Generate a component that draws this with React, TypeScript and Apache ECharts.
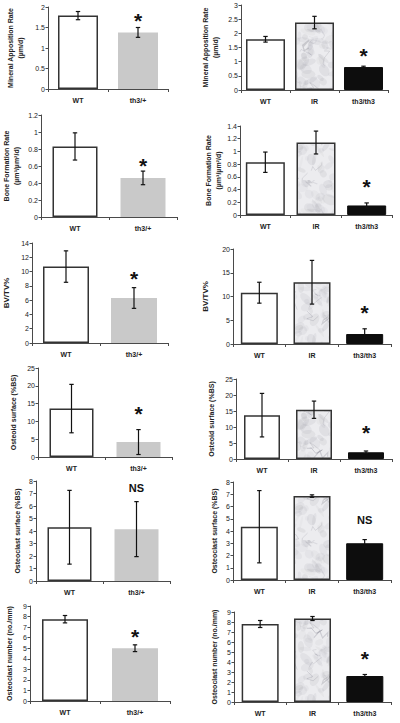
import React, { useEffect, useRef } from "react";
import * as echarts from "echarts";

// ---------- data ----------
const twoCats = ["WT", "th3/+"];
const threeCats = ["WT", "IR", "th3/th3"];

const marLeft = [1.79, 1.38];
const marLeftErr = [0.1, 0.12];
const marRight = [1.79, 2.38, 0.81];
const marRightErr = [0.1, 0.22, 0.03];

const bfrLeft = [0.83, 0.46];
const bfrLeftErr = [0.16, 0.08];
const bfrRight = [0.83, 1.14, 0.15];
const bfrRightErr = [0.16, 0.18, 0.04];

const bvLeft = [10.7, 6.3];
const bvLeftErr = [2.2, 1.45];
const bvRight = [10.8, 13.0, 2.1];
const bvRightErr = [2.2, 4.6, 1.1];

const osLeft = [13.6, 4.2];
const osLeftErr = [6.8, 3.5];
const osRight = [13.7, 15.4, 2.1];
const osRightErr = [6.8, 2.7, 0.4];

const ocsLeft = [4.3, 4.15];
const ocsLeftErr = [2.95, 2.2];
const ocsRight = [4.35, 6.85, 3.0];
const ocsRightErr = [2.95, 0.1, 0.3];

const ocnLeft = [7.75, 5.0];
const ocnLeftErr = [0.35, 0.32];
const ocnRight = [7.8, 8.35, 2.6];
const ocnRightErr = [0.35, 0.2, 0.15];

// significance marks: [category index, y value, text]
const marLeftMark = [1, 1.8, "*"];
const marRightMark = [2, 1.41, "*"];
const bfrLeftMark = [1, 0.67, "*"];
const bfrRightMark = [2, 0.53, "*"];
const bvLeftMark = [1, 9.8, "*"];
const bvRightMark = [2, 7.6, "*"];
const osLeftMark = [1, 13.5, "*"];
const osRightMark = [2, 10, "*"];
const ocsLeftMark = [1, 7.45, "NS"];
const ocsRightMark = [2, 4.9, "NS"];
const ocnLeftMark = [1, 6.55, "*"];
const ocnRightMark = [2, 4.9, "*"];

const marName = "Mineral Apposition Rate\n(µm/d)";
const bfrName = "Bone Formation Rate\n(µm³/µm²/d)";
const bvName = "BV/TV%";
const osName = "Osteoid surface (%BS)";
const ocsName = "Osteoclast surface (%BS)";
const ocnName = "Osteoclast number (no./mm)";

// ---------- styling ----------
const FONT = "Liberation Sans";
const AXIS = "#4a4a4a";

function makeMarble(): HTMLCanvasElement {
  const W = 90;
  const H = 180;
  const c = document.createElement("canvas");
  c.width = W;
  c.height = H;
  const ctx = c.getContext("2d")!;
  ctx.fillStyle = "#ececef";
  ctx.fillRect(0, 0, W, H);
  let seed = 98765;
  const rnd = () => {
    seed = (seed * 16807) % 2147483647;
    return seed / 2147483647;
  };
  for (let i = 0; i < 260; i++) {
    ctx.fillStyle = `rgba(130,130,142,${0.04 + rnd() * 0.08})`;
    ctx.beginPath();
    ctx.ellipse(rnd() * W, rnd() * H, 2 + rnd() * 6, 1 + rnd() * 4, rnd() * 3, 0, Math.PI * 2);
    ctx.fill();
  }
  for (let i = 0; i < 40; i++) {
    ctx.strokeStyle = `rgba(115,115,128,${0.12 + rnd() * 0.22})`;
    ctx.lineWidth = 0.4 + rnd() * 0.9;
    ctx.beginPath();
    let x = rnd() * W;
    let y = rnd() * H;
    ctx.moveTo(x, y);
    for (let k = 0; k < 4; k++) {
      x += (rnd() - 0.5) * 14;
      y += (rnd() - 0.5) * 14;
      ctx.lineTo(x, y);
    }
    ctx.stroke();
  }
  return c;
}

type Panel = {
  cats: string[];
  vals: number[];
  errs: number[];
  mark: (number | string)[];
  name: string;
  max: number;
  interval: number;
  rect: [number, number, number, number]; // left, top, right, bottom
  nameGap: number;
  nameSize: number;
  barWidth: number;
};

export default function App() {
  const ref = useRef<HTMLDivElement>(null);

  useEffect(() => {
    if (!ref.current) return;
    const chart = echarts.init(ref.current, undefined, { renderer: "svg" });
    const marble = makeMarble();
    const marbleFill: any = {
      image: marble,
      repeat: "repeat",
      imageWidth: 90,
      imageHeight: 180,
    };

    const panels: Panel[] = [
      { cats: twoCats, vals: marLeft, errs: marLeftErr, mark: marLeftMark, name: marName, max: 2, interval: 0.5, rect: [48, 7, 168, 89], nameGap: 23, nameSize: 7, barWidth: 40 },
      { cats: threeCats, vals: marRight, errs: marRightErr, mark: marRightMark, name: marName, max: 3, interval: 0.5, rect: [241, 5, 388, 90], nameGap: 21, nameSize: 7, barWidth: 39 },
      { cats: twoCats, vals: bfrLeft, errs: bfrLeftErr, mark: bfrLeftMark, name: bfrName, max: 1.2, interval: 0.2, rect: [39, 115, 177, 217], nameGap: 20, nameSize: 7, barWidth: 45 },
      { cats: threeCats, vals: bfrRight, errs: bfrRightErr, mark: bfrRightMark, name: bfrName, max: 1.4, interval: 0.2, rect: [240, 126, 392, 215], nameGap: 16, nameSize: 7, barWidth: 39 },
      { cats: twoCats, vals: bvLeft, errs: bvLeftErr, mark: bvLeftMark, name: bvName, max: 14, interval: 2, rect: [32, 243, 168, 343], nameGap: 20, nameSize: 8, barWidth: 46 },
      { cats: threeCats, vals: bvRight, errs: bvRightErr, mark: bvRightMark, name: bvName, max: 20, interval: 5, rect: [233, 249, 391, 344], nameGap: 22, nameSize: 8, barWidth: 37 },
      { cats: twoCats, vals: osLeft, errs: osLeftErr, mark: osLeftMark, name: osName, max: 25, interval: 5, rect: [38, 368, 172, 457], nameGap: 20, nameSize: 7, barWidth: 44 },
      { cats: threeCats, vals: osRight, errs: osRightErr, mark: osRightMark, name: osName, max: 25, interval: 5, rect: [236, 379, 392, 459], nameGap: 20, nameSize: 7, barWidth: 36 },
      { cats: twoCats, vals: ocsLeft, errs: ocsLeftErr, mark: ocsLeftMark, name: ocsName, max: 8, interval: 1, rect: [36, 481, 170, 581], nameGap: 14, nameSize: 7, barWidth: 44 },
      { cats: threeCats, vals: ocsRight, errs: ocsRightErr, mark: ocsRightMark, name: ocsName, max: 8, interval: 1, rect: [233, 482, 391, 580], nameGap: 14, nameSize: 7, barWidth: 37 },
      { cats: twoCats, vals: ocnLeft, errs: ocnLeftErr, mark: ocnLeftMark, name: ocnName, max: 9, interval: 1, rect: [30, 606, 170, 701], nameGap: 16, nameSize: 7, barWidth: 46 },
      { cats: threeCats, vals: ocnRight, errs: ocnRightErr, mark: ocnRightMark, name: ocnName, max: 9, interval: 1, rect: [234, 612, 391, 702], nameGap: 15, nameSize: 7, barWidth: 37 },
    ];

    const styleFor = (cat: string) => {
      if (cat === "WT") return { color: "#ffffff", borderColor: "#333", borderWidth: 1.5 };
      if (cat === "IR") return { color: marbleFill, borderColor: "#333", borderWidth: 1.5 };
      if (cat === "th3/th3") return { color: "#0d0d0d", borderColor: "#0d0d0d", borderWidth: 1 };
      return { color: "#c9c9c9", borderWidth: 0 };
    };

    const grid: any[] = [];
    const xAxis: any[] = [];
    const yAxis: any[] = [];
    const series: any[] = [];

    panels.forEach((p, i) => {
      const [l, t, r, b] = p.rect;
      grid.push({ left: l, top: t, width: r - l, height: b - t, containLabel: false });
      xAxis.push({
        type: "category",
        gridIndex: i,
        data: p.cats,
        axisLine: { lineStyle: { color: AXIS, width: 1 } },
        axisTick: { show: true, length: 3, lineStyle: { color: AXIS } },
        axisLabel: { fontFamily: FONT, fontWeight: "bold", fontSize: 7, color: "#222", margin: 8 },
      });
      yAxis.push({
        type: "value",
        gridIndex: i,
        min: 0,
        max: p.max,
        interval: p.interval,
        splitLine: { show: false },
        axisLine: { show: true, lineStyle: { color: AXIS, width: 1 } },
        axisTick: { show: true, length: 2.5, lineStyle: { color: AXIS } },
        axisLabel: { fontFamily: FONT, fontSize: 7, color: "#222", margin: 3 },
        name: p.name,
        nameLocation: "middle",
        nameGap: p.nameGap,
        nameTextStyle: { fontFamily: FONT, fontWeight: "bold", fontSize: p.nameSize, color: "#222", lineHeight: p.nameSize + 3 },
      });
      series.push({
        type: "bar",
        xAxisIndex: i,
        yAxisIndex: i,
        barWidth: p.barWidth,
        data: p.vals.map((v, k) => ({ value: v, itemStyle: styleFor(p.cats[k]) })),
      });
      series.push({
        type: "custom",
        xAxisIndex: i,
        yAxisIndex: i,
        z: 5,
        data: p.vals.map((v, k) => [k, v, p.errs[k]]),
        renderItem: (params: any, api: any) => {
          const x = api.value(0);
          const v = api.value(1);
          const e = api.value(2);
          const top = api.coord([x, v + e]);
          const bot = api.coord([x, v - e]);
          const cw = 2.2;
          const st = { stroke: "#111", lineWidth: 1.2 };
          return {
            type: "group",
            children: [
              { type: "line", shape: { x1: top[0], y1: top[1], x2: bot[0], y2: bot[1] }, style: st },
              { type: "line", shape: { x1: top[0] - cw, y1: top[1], x2: top[0] + cw, y2: top[1] }, style: st },
              { type: "line", shape: { x1: bot[0] - cw, y1: bot[1], x2: bot[0] + cw, y2: bot[1] }, style: st },
            ],
          };
        },
      });
      series.push({
        type: "custom",
        xAxisIndex: i,
        yAxisIndex: i,
        z: 6,
        data: [[p.mark[0], p.mark[1]]],
        renderItem: (params: any, api: any) => {
          const pt = api.coord([api.value(0), api.value(1)]);
          const isStar = p.mark[2] === "*";
          return {
            type: "text",
            x: pt[0],
            y: pt[1] + (isStar ? 5 : 0),
            style: {
              text: String(p.mark[2]),
              fontFamily: FONT,
              fontWeight: "bold",
              fontSize: isStar ? 21 : 11,
              fill: "#111",
              align: "center",
              verticalAlign: "middle",
            },
          };
        },
      });
    });

    chart.setOption({
      animation: false,
      backgroundColor: "#ffffff",
      grid,
      xAxis,
      yAxis,
      series,
    });
    return () => chart.dispose();
  }, []);

  return (
    <div
      ref={ref}
      style={{ position: "absolute", left: 0, top: 0, width: 400, height: 723 }}
    />
  );
}
